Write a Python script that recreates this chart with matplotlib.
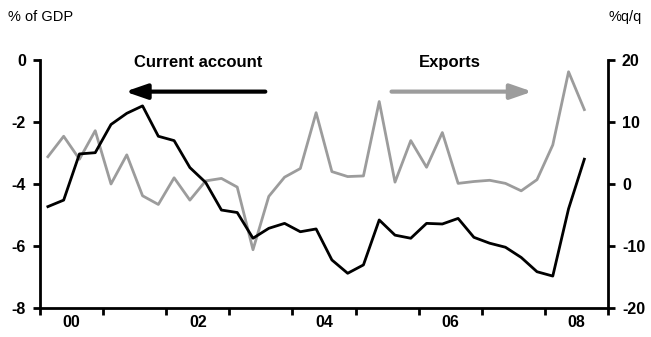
import numpy as np
import pandas as pd
import matplotlib
matplotlib.use("Agg")
import matplotlib.pyplot as plt

plt.rcParams["font.family"] = ["Liberation Sans", "DejaVu Sans"]
plt.rcParams["axes.unicode_minus"] = False

# quarterly data, 2000Q1 - 2008Q3
quarters = pd.period_range("2000Q1", "2008Q3", freq="Q")

current_account = [
    -4.73, -4.52, -3.03, -2.99, -2.08, -1.72, -1.48, -2.46, -2.60, -3.47,
    -3.95, -4.84, -4.92, -5.75, -5.43, -5.27, -5.54, -5.45, -6.45, -6.88,
    -6.61, -5.16, -5.65, -5.75, -5.27, -5.29, -5.11, -5.72, -5.91, -6.04,
    -6.37, -6.83, -6.97, -4.80, -3.20,
]
exports = [
    4.4, 7.7, 4.0, 8.6, 0.0, 4.7, -1.9, -3.3, 1.0, -2.6,
    0.5, 0.9, -0.5, -10.6, -2.0, 1.1, 2.5, 11.5, 2.0, 1.2,
    1.3, 13.3, 0.3, 7.0, 2.7, 8.3, 0.1, 0.4, 0.6, 0.1,
    -1.1, 0.7, 6.3, 18.1, 12.0,
]
year_labels = ["00", "02", "04", "06", "08"]

x = quarters.year + (quarters.quarter - 0.5) / 4

black = "#000000"
grey = "#9c9c9c"

fig = plt.figure(figsize=(6.51, 3.37), dpi=100)
ax = fig.add_axes([40 / 651, 1 - 308 / 337, 568 / 651, 248 / 337])
ax2 = ax.twinx()

ax2.plot(x, exports, color=grey, lw=2, zorder=2)
ax.plot(x, current_account, color=black, lw=2, zorder=3)
ax.set_zorder(ax2.get_zorder() + 1)
ax.patch.set_visible(False)

ax.set_xlim(2000, 2009)
ax.set_ylim(-8, 0)
ax2.set_ylim(-20, 20)
ax.set_yticks(np.arange(-8, 1, 2))
ax2.set_yticks(np.arange(-20, 21, 10))

# year boundaries carry the tick marks, even years are labelled mid-year
ax.set_xticks(np.arange(2000, 2010))
ax.set_xticklabels([])
ax.set_xticks([2000.5, 2002.5, 2004.5, 2006.5, 2008.5], minor=True)
ax.set_xticklabels(year_labels, minor=True)
ax.tick_params(axis="x", which="minor", length=0, pad=5)

for a in (ax, ax2):
    a.spines["top"].set_visible(False)
    for s in a.spines.values():
        s.set_linewidth(2)
    a.tick_params(which="major", direction="out", width=2, length=5)
    a.tick_params(axis="y", pad=5)
    a.tick_params(which="both", labelsize=11.5)
    for lab in a.get_yticklabels() + a.get_xticklabels(which="both"):
        lab.set_fontweight("bold")
ax.spines["right"].set_visible(False)
ax2.spines["left"].set_visible(False)
ax2.spines["bottom"].set_visible(False)

# direction arrows with series labels
ax.annotate("", xy=(2001.35, -1.02), xytext=(2003.57, -1.02),
            arrowprops=dict(arrowstyle="-|>,head_length=1.3,head_width=0.45",
                            color=black, lw=3, shrinkA=0, shrinkB=0))
ax.annotate("", xy=(2007.8, -1.02), xytext=(2005.57, -1.02),
            arrowprops=dict(arrowstyle="-|>,head_length=1.3,head_width=0.45",
                            color=grey, lw=3, shrinkA=0, shrinkB=0))
ax.text(2002.5, -0.08, "Current account", ha="center", va="center",
        fontsize=12, fontweight="bold")
ax.text(2006.5, -0.08, "Exports", ha="center", va="center",
        fontsize=12, fontweight="bold")

fig.text(8 / 651, 1 - 17 / 337, "% of GDP", ha="left", va="center", fontsize=10.5)
fig.text(642 / 651, 1 - 17 / 337, "%q/q", ha="right", va="center", fontsize=10.5)

fig.savefig("out.png", dpi=100)
